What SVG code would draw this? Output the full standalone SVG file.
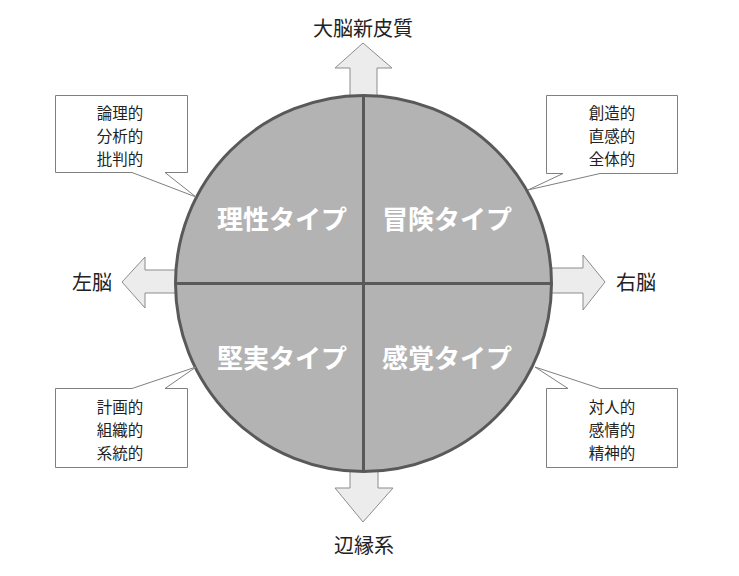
<svg xmlns="http://www.w3.org/2000/svg" width="739" height="576" viewBox="0 0 739 576">
<style>
text{font-family:"Noto Sans CJK JP","Noto Sans CJK SC",sans-serif;}
.lbl{font-size:20px;fill:#222;text-anchor:middle;}
.cl{font-size:15.5px;fill:#222;text-anchor:middle;}
.q{font-size:26px;font-weight:bold;fill:#fff;text-anchor:middle;}
.arr{fill:#ececec;stroke:#8c8c8c;stroke-width:1;}
.box{fill:#fff;stroke:#7f7f7f;stroke-width:1;}
</style>
<rect width="739" height="576" fill="#fff"/>
<g id="arrows">
<polygon class="arr" points="350,96 350,68 335,68 363,43 392,68 377,68 377,96"/>
<polygon class="arr" points="350,471 350,488 335,488 363,522 393,488 378,488 378,471"/>
<polygon class="arr" points="177,270 145,270 145,257 122,282 145,308 145,293 177,293"/>
<polygon class="arr" points="550,268 583,268 583,255 605,282 583,310 583,293 550,293"/>
</g>
<g id="circle">
<circle cx="363.5" cy="283.5" r="188" fill="#b3b3b3" stroke="#595959" stroke-width="3"/>
<line x1="363.5" y1="95.5" x2="363.5" y2="471.5" stroke="#595959" stroke-width="3"/>
<line x1="175.5" y1="283.5" x2="551.5" y2="283.5" stroke="#595959" stroke-width="3"/>
</g>
<g id="q1"><text class="q" x="282" y="229">理性タイプ</text></g>
<g id="q2"><text class="q" x="447" y="229">冒険タイプ</text></g>
<g id="q3"><text class="q" x="282" y="368">堅実タイプ</text></g>
<g id="q4"><text class="q" x="447" y="368">感覚タイプ</text></g>
<g id="top"><text class="lbl" x="363" y="36">大脳新皮質</text></g>
<g id="bottom"><text class="lbl" x="364" y="553">辺縁系</text></g>
<g id="left"><text class="lbl" x="92" y="290">左脳</text></g>
<g id="right"><text class="lbl" x="636" y="290">右脳</text></g>
<g id="c1">
<path class="box" d="M55.5,95.5 H187.5 V172.5 H165 L196,197 L132,172.5 H55.5 Z"/>
<text class="cl" x="120" y="119">論理的</text>
<text class="cl" x="120" y="142">分析的</text>
<text class="cl" x="120" y="165">批判的</text>
</g>
<g id="c2">
<path class="box" d="M546.5,95.5 H677.5 V173.5 H600 L528,190 L563,173.5 H546.5 Z"/>
<text class="cl" x="612" y="119">創造的</text>
<text class="cl" x="612" y="142">直感的</text>
<text class="cl" x="612" y="165">全体的</text>
</g>
<g id="c3">
<path class="box" d="M55.5,388.5 H132 L196,367 L165,388.5 H187.5 V467.5 H55.5 Z"/>
<text class="cl" x="120" y="413">計画的</text>
<text class="cl" x="120" y="436">組織的</text>
<text class="cl" x="120" y="459">系統的</text>
</g>
<g id="c4">
<path class="box" d="M546.5,388.5 H568 L535,367 L600,388.5 H677.5 V467.5 H546.5 Z"/>
<text class="cl" x="612" y="413">対人的</text>
<text class="cl" x="612" y="436">感情的</text>
<text class="cl" x="612" y="459">精神的</text>
</g>
</svg>
